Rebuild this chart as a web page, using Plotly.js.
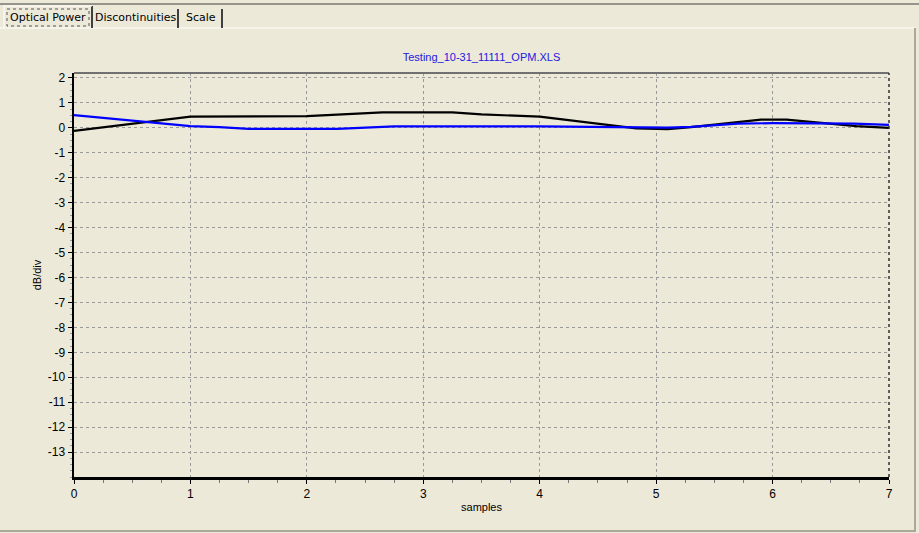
<!DOCTYPE html>
<html>
<head>
<meta charset="utf-8">
<script src="https://cdn.plot.ly/plotly-3.0.1.min.js"></script>
<style>
html,body{margin:0;padding:0;background:#ECE9D8;}
#chart{width:919px;height:533px;}
</style>
</head>
<body>
<div id="chart"></div>
<script>
// ---- data ----
const chartTitle = "Testing_10-31_11111_OPM.XLS";
const xTitle = "samples";
const yTitle = "dB/div";
const tabLabels = ["Optical Power", "Discontinuities", "Scale"];

const blackX = [0, 1, 2, 2.34, 2.65, 3.25, 3.5, 4.0, 4.83, 5.1, 5.3, 5.6, 5.9, 6.12, 6.4, 6.72, 7];
const blackY = [-0.12, 0.45, 0.47, 0.55, 0.62, 0.62, 0.54, 0.45, -0.02, -0.05, 0.03, 0.18, 0.33, 0.33, 0.2, 0.07, 0.0];

const blueX = [0, 1, 1.25, 1.5, 2.26, 2.5, 2.75, 4.0, 4.6, 5.1, 5.3, 5.7, 6.0, 6.7, 7];
const blueY = [0.51, 0.07, 0.03, -0.04, -0.04, 0.01, 0.06, 0.06, 0.03, 0.01, 0.04, 0.17, 0.19, 0.17, 0.12];

const xTicks = [0, 1, 2, 3, 4, 5, 6, 7];
const yTicks = [2, 1, 0, -1, -2, -3, -4, -5, -6, -7, -8, -9, -10, -11, -12, -13];

// ---- layout helpers (pixel -> paper) ----
const W = 919, H = 533;
const L = 74, R = 30, T = 73, B = 56;
const PW = W - L - R, PH = H - T - B;
const px = p => (p - L) / PW;
const py = p => (H - B - p) / PH;

const font = "Tahoma, 'DejaVu Sans', 'Liberation Sans', sans-serif";
const tickFont = "'Liberation Sans', Arial, sans-serif";

const shapes = [];
const annotations = [];

// top dark line
shapes.push({type:'line', xref:'paper', yref:'paper', x0:px(0), x1:px(919), y0:py(4), y1:py(4), line:{color:'#404040', width:1}});
// panel border
shapes.push({type:'line', xref:'paper', yref:'paper', x0:px(0), x1:px(916), y0:py(28), y1:py(28), line:{color:'#FFFFFF', width:1}});
shapes.push({type:'line', xref:'paper', yref:'paper', x0:px(915), x1:px(915), y0:py(28), y1:py(531), line:{color:'#ACA899', width:2}});
shapes.push({type:'line', xref:'paper', yref:'paper', x0:px(0), x1:px(916), y0:py(531), y1:py(531), line:{color:'#ACA899', width:2}});

// tabs
const tabBoxes = [[4, 92], [94, 178], [180, 222]];
tabBoxes.forEach((b, i) => {
  shapes.push({type:'line', xref:'paper', yref:'paper', x0:px(b[1]), x1:px(b[1]), y0:py(i===0?6:9), y1:py(28), line:{color:'#404040', width:2}});
  annotations.push({xref:'paper', yref:'paper', x:px((b[0]+b[1])/2), y:py(17), text:tabLabels[i], showarrow:false,
    font:{family:font, size:11, color:'#000000'}, xanchor:'center', yanchor:'middle'});
});
// selected tab highlight & focus rect
shapes.push({type:'line', xref:'paper', yref:'paper', x0:px(4), x1:px(4), y0:py(6), y1:py(28), line:{color:'#FFFFFF', width:1}});
shapes.push({type:'line', xref:'paper', yref:'paper', x0:px(4), x1:px(92), y0:py(6), y1:py(6), line:{color:'#FFFFFF', width:1}});
shapes.push({type:'rect', xref:'paper', yref:'paper', x0:px(7), x1:px(89), y0:py(9), y1:py(26), line:{color:'#555555', width:1, dash:'dot'}});

// plot frame: top gray solid, right dashed dark
shapes.push({type:'line', xref:'paper', yref:'paper', x0:0, x1:1, y0:1, y1:1, line:{color:'#707070', width:2}});
shapes.push({type:'line', xref:'paper', yref:'paper', x0:1, x1:1, y0:0, y1:1, line:{color:'#303030', width:1.5, dash:'3px,3px'}});

const traces = [
  {x: blackX, y: blackY, type:'scatter', mode:'lines', line:{color:'#000000', width:2.2}, hoverinfo:'skip'},
  {x: blueX, y: blueY, type:'scatter', mode:'lines', line:{color:'#0000FF', width:2.2}, hoverinfo:'skip'}
];

const layout = {
  width: W, height: H,
  margin: {l:L, r:R, t:T, b:B},
  paper_bgcolor: '#ECE9D8',
  plot_bgcolor: '#ECE9D8',
  showlegend: false,
  title: {text: chartTitle, font:{family:tickFont, size:11, color:'#2020E0'}, x:0.5, xref:'paper', y:1-57/H, yref:'container', yanchor:'middle'},
  xaxis: {
    range:[0,7], tickvals:xTicks, ticktext:xTicks.map(String),
    showgrid:true, gridcolor:'#9A9A9A', griddash:'3px,3px', gridwidth:1,
    zeroline:false, showline:true, linecolor:'#000000', linewidth:2.5,
    ticks:'outside', ticklen:4, tickcolor:'#000000', tickwidth:1,
    minor:{dtick:0.25, ticks:'outside', ticklen:3, tickcolor:'#777777', showgrid:false},
    tickfont:{family:tickFont, size:12, color:'#000000'},
    title:{text:xTitle, font:{family:tickFont, size:11, color:'#000000'}, standoff:4}
  },
  yaxis: {
    range:[-14,2.2], tickvals:yTicks, ticktext:yTicks.map(String),
    showgrid:true, gridcolor:'#9A9A9A', griddash:'3px,3px', gridwidth:1,
    zeroline:false, showline:true, linecolor:'#000000', linewidth:2.5,
    ticks:'outside', ticklen:4, tickcolor:'#000000', tickwidth:1,
    minor:{dtick:0.25, ticks:'outside', ticklen:2, tickcolor:'#999999', showgrid:false},
    tickfont:{family:tickFont, size:12, color:'#000000'},
    title:{text:yTitle, font:{family:tickFont, size:11, color:'#000000'}, standoff:4}
  },
  shapes: shapes,
  annotations: annotations
};

Plotly.newPlot('chart', traces, layout, {staticPlot:true, displayModeBar:false});
</script>
</body>
</html>
